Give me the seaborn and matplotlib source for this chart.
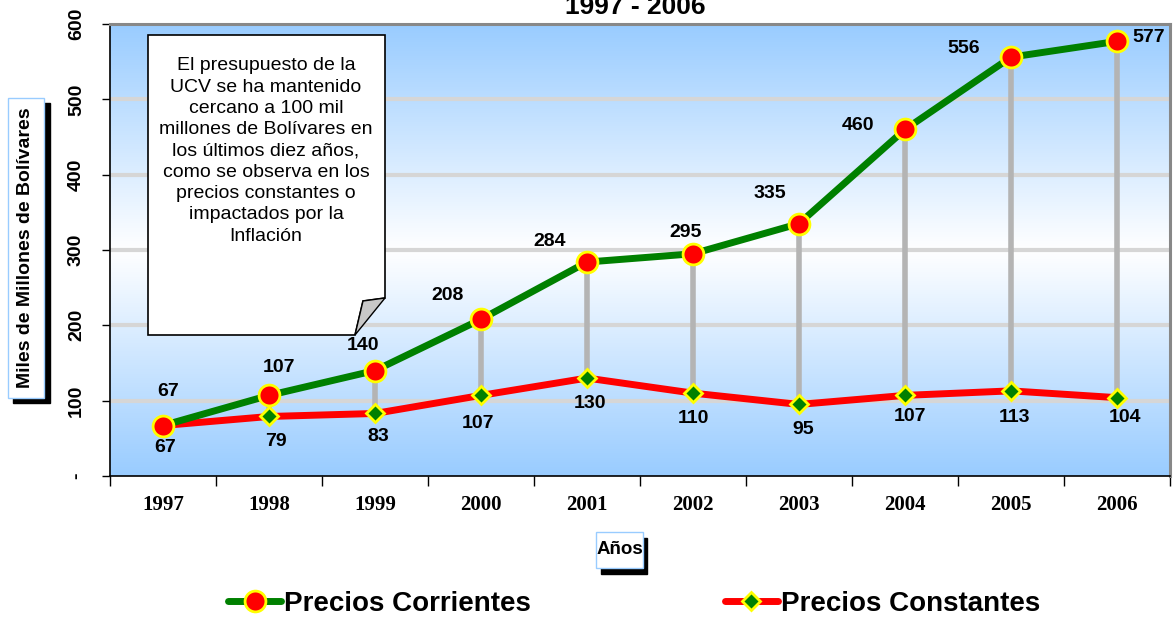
import numpy as np
import pandas as pd
import matplotlib
matplotlib.use("Agg")
import matplotlib.pyplot as plt
import seaborn as sns
from matplotlib.patches import Polygon, Rectangle

# Datos del presupuesto UCV (miles de millones de Bs.)
years = ['1997', '1998', '1999', '2000', '2001', '2002', '2003', '2004', '2005', '2006']
corrientes = [67, 107, 140, 208, 284, 295, 335, 460, 556, 577]
constantes = [67, 79, 83, 107, 130, 110, 95, 107, 113, 104]
y_ticks = [0, 100, 200, 300, 400, 500, 600]
y_tick_labels = ['-', '100', '200', '300', '400', '500', '600']
note = ("El presupuesto de la\nUCV se ha mantenido\ncercano a 100 mil\n"
        "millones de Bolívares en\nlos últimos diez años,\ncomo se observa en los\n"
        "precios constantes o\nimpactados por la\nInflación")

sns.set_style('white')
plt.rcParams['font.family'] = ['Liberation Sans', 'DejaVu Sans']
plt.rcParams['text.color'] = 'black'
plt.rcParams['xtick.color'] = 'black'
plt.rcParams['ytick.color'] = 'black'

W, H = 1174, 618
fig = plt.figure(figsize=(W / 100, H / 100), dpi=100)
ax = fig.add_axes([110 / W, 1 - 476 / H, 1060 / W, 452 / H])

def fx(px):
    return px / W

def fy(py):
    return 1 - py / H

df = pd.DataFrame({'x': np.arange(len(years)), 'cor': corrientes, 'con': constantes})

# fondo degradado azul - blanco - azul
t = np.linspace(0, 1, 300)
w = np.where(t < 0.5, (0.5 - t) / 0.5, (t - 0.5) / 0.5)
blue = np.array([153, 204, 255]) / 255
white = np.array([1.0, 1.0, 1.0])
grad = white[None, :] * (1 - w[:, None]) + blue[None, :] * w[:, None]
grad = np.repeat(grad[:, None, :], 2, axis=1)
ax.imshow(grad, extent=[-0.5, 9.5, 0, 600], aspect='auto', zorder=0)

for yv in y_ticks[1:-1]:
    ax.axhline(yv, color='#d6d6d6', lw=3, zorder=1)

# lineas verticales entre series
ax.vlines(df['x'], df['con'], df['cor'], color='#b4b4b4', lw=4, zorder=2)

sns.lineplot(data=df, x='x', y='cor', ax=ax, color='#008000', lw=5, marker='o',
             markersize=15, markerfacecolor='red', markeredgecolor='yellow',
             markeredgewidth=2, zorder=4, label='Precios Corrientes', legend=False)
sns.lineplot(data=df, x='x', y='con', ax=ax, color='red', lw=5, marker='D',
             markersize=9, markerfacecolor='#008000', markeredgecolor='yellow',
             markeredgewidth=2, zorder=3, label='Precios Constantes', legend=False)

off_cor = [(5, 34), (10, 28), (-12, 25), (-33, 24), (-37, 21), (-7, 21),
           (-29, 30), (-47, 4), (-47, 9), (32, 4)]
off_con = [(2, -22), (7, -25), (3, -23), (-3, -28), (3, -25), (0, -25),
           (4, -25), (5, -21), (4, -27), (8, -20)]
for i in range(len(years)):
    ax.annotate(str(corrientes[i]), (i, corrientes[i]), xytext=off_cor[i],
                textcoords='offset pixels', ha='center', va='center',
                fontsize=14, fontweight='bold', zorder=6)
    ax.annotate(str(constantes[i]), (i, constantes[i]), xytext=off_con[i],
                textcoords='offset pixels', ha='center', va='center',
                fontsize=14, fontweight='bold', zorder=6)

ax.set_xlim(-0.5, 9.5)
ax.set_ylim(0, 600)
ax.set_xticks(np.arange(-0.5, 10, 1))
ax.set_xticklabels([])
ax.set_xticks(np.arange(len(years)), minor=True)
ax.set_xticklabels(years, minor=True, fontfamily='Liberation Serif',
                   fontweight='bold', fontsize=15)
ax.tick_params(axis='x', which='major', direction='out', length=7, width=1, bottom=True)
ax.tick_params(axis='x', which='minor', length=0, pad=14)
ax.set_yticks(y_ticks)
ax.set_yticklabels(y_tick_labels, rotation=90, va='center', fontweight='bold', fontsize=14)
ax.tick_params(axis='y', direction='out', length=6, width=1, left=True, pad=12)
ax.set_xlabel('')
ax.set_ylabel('')

for s in ['left', 'bottom']:
    ax.spines[s].set_color('black')
    ax.spines[s].set_linewidth(1.2)
for s in ['top', 'right']:
    ax.spines[s].set_color('#888888')
    ax.spines[s].set_linewidth(2.2)

# titulo (cortado arriba, como en el original)
fig.text(fx(635), fy(14), '1997 - 2006', ha='center', va='baseline',
         fontsize=19, fontweight='bold')

# etiqueta eje Y con sombra
fig.patches.append(Rectangle((fx(13), fy(403)), fx(37), 300 / H, color='black',
                             transform=fig.transFigure, zorder=1))
fig.patches.append(Rectangle((fx(8), fy(398)), fx(36), 300 / H, facecolor='white',
                             edgecolor='#99ccff', lw=1, transform=fig.transFigure, zorder=2))
fig.text(fx(26), fy(248), 'Miles de Millones de Bolívares', rotation=90, ha='center',
         va='center', fontsize=14, fontweight='bold', zorder=3)

# etiqueta eje X con sombra
fig.patches.append(Rectangle((fx(601), fy(574)), fx(46), 36 / H, color='black',
                             transform=fig.transFigure, zorder=1))
fig.patches.append(Rectangle((fx(596), fy(568)), fx(47), 36 / H, facecolor='white',
                             edgecolor='#99ccff', lw=1, transform=fig.transFigure, zorder=2))
fig.text(fx(619.5), fy(550), 'Años', ha='center', va='center', fontsize=13.5,
         fontweight='bold', zorder=3)

# nota con esquina doblada
box = [(148, 35), (385, 35), (385, 298), (363, 301), (355, 335), (148, 335)]
fig.patches.append(Polygon([(fx(a), fy(b)) for a, b in box], closed=True,
                           facecolor='white', edgecolor='black', lw=1.2,
                           transform=fig.transFigure, zorder=5))
fold = [(363, 301), (385, 298), (355, 335)]
fig.patches.append(Polygon([(fx(a), fy(b)) for a, b in fold], closed=True,
                           facecolor='#c8c8c8', edgecolor='black', lw=1,
                           transform=fig.transFigure, zorder=6))
fig.text(fx(266), fy(151), note, ha='center', va='center', fontsize=14,
         linespacing=1.33, zorder=7)

handles, labels = ax.get_legend_handles_labels()
leg = fig.legend(handles, labels, loc='center', bbox_to_anchor=(0.540, fy(604)),
                 ncol=2, frameon=False, columnspacing=7.0, handletextpad=0.1,
                 handlelength=1.9, prop={'size': 20, 'weight': 'bold'})

fig.savefig('out.png', dpi=100)
